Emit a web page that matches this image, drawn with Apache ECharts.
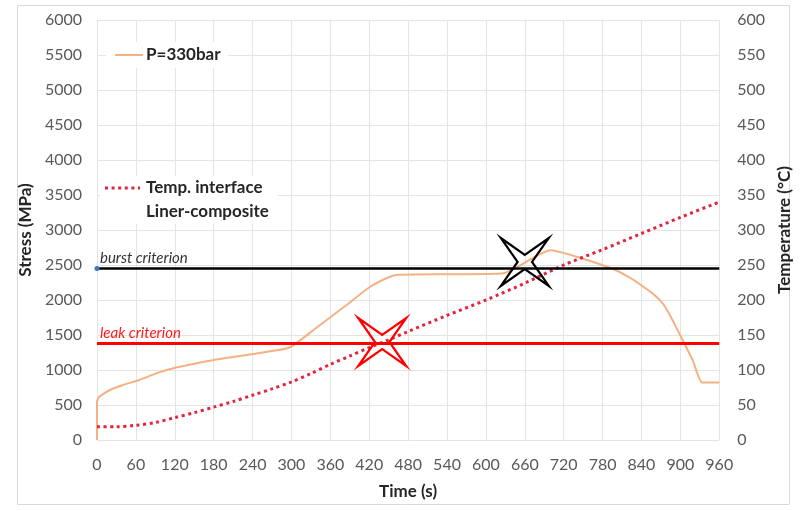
<!DOCTYPE html>
<html>
<head>
<meta charset="utf-8">
<script src="https://cdn.jsdelivr.net/npm/echarts@6/dist/echarts.min.js"></script>
<style>
  html, body { margin: 0; padding: 0; background: #ffffff; }
  #chart { width: 801px; height: 511px; }
</style>
</head>
<body>
<div id="chart"></div>
<script>
// Stress in the liner (MPa) over time (s)
const stressTime  = [0, 0,   4,   20,  40,  65,  91,  119,  150,  180,  210,  241,  270,  298,  340,  381,  421,  451,  465,  540,  625,  700,  746,  797,  820,  843,  860,  876,  893,  906,  919,  934, 960];
const stressValue = [0, 547, 620, 714, 786, 857, 952, 1029, 1090, 1143, 1185, 1229, 1270, 1325, 1614, 1900, 2186, 2329, 2360, 2368, 2378, 2710, 2600, 2440, 2330, 2190, 2070, 1910, 1620, 1380, 1140, 820, 820];

// Temperature at the liner-composite interface (°C) over time (s)
const tempTime  = [0,  30, 60, 90, 120, 150, 180, 210, 240, 270, 300, 330, 360, 390, 420, 450, 480, 540, 600, 660, 720, 780, 840, 900, 960];
const tempValue = [19, 19, 21, 25, 32,  39,  47,  55,  64,  73,  83,  95,  108, 120, 132, 143, 155, 178, 200, 224, 250, 272, 295, 318, 340];

// Failure criteria (MPa)
const burstCriterion = 2450;
const leakCriterion = 1380;

// Star markers: [time, stress]
const leakStar  = [440, 1400];
const burstStar = [660, 2543];

// Legend entries
const stressLegend = 'P=330bar';
const tempLegend = ['Temp. interface', 'Liner-composite'];

// Axis ranges / ticks
const timeTicks   = { min: 0, max: 960, interval: 60 };
const stressTicks = { min: 0, max: 6000, interval: 500 };
const tempTicks   = { min: 0, max: 600, interval: 50 };

const zip = (xs, ys) => xs.map((x, i) => [x, ys[i]]);

const FONT = 'Lato, "Liberation Sans", sans-serif';
const STRESS_COLOR = '#f4b183';
const TEMP_COLOR = '#e2243c';
const starPath = 'path://M0 0L50 35L100 0L65 50L100 100L50 65L0 100L35 50Z';

const chart = echarts.init(document.getElementById('chart'), null, { renderer: 'canvas' });

const axisLabel = { color: '#595959', fontFamily: FONT, fontSize: 16, formatter: v => String(v) };
const axisName = { color: '#262626', fontFamily: FONT, fontSize: 17, fontWeight: 'bold' };
const gridLine = { show: true, lineStyle: { color: '#e4e4e4', width: 1 } };
const legendFont = 'bold 17px ' + FONT;

chart.setOption({
  animation: false,
  backgroundColor: '#ffffff',
  grid: { left: 97, right: 74, top: 20, bottom: 71, containLabel: false },
  xAxis: {
    type: 'value',
    min: timeTicks.min, max: timeTicks.max, interval: timeTicks.interval,
    name: 'Time (s)', nameLocation: 'middle', nameGap: 43,
    nameTextStyle: axisName,
    axisLine: { show: false }, axisTick: { show: false },
    axisLabel: Object.assign({ margin: 17 }, axisLabel),
    splitLine: gridLine
  },
  yAxis: [
    {
      type: 'value', position: 'left',
      min: stressTicks.min, max: stressTicks.max, interval: stressTicks.interval,
      name: 'Stress (MPa)', nameLocation: 'middle', nameGap: 56, nameRotate: 90,
      nameTextStyle: axisName,
      axisLine: { show: false }, axisTick: { show: false },
      axisLabel: Object.assign({ margin: 15 }, axisLabel),
      splitLine: gridLine
    },
    {
      type: 'value', position: 'right',
      min: tempTicks.min, max: tempTicks.max, interval: tempTicks.interval,
      name: 'Temperature (°C)', nameLocation: 'middle', nameGap: 56, nameRotate: 90,
      nameTextStyle: axisName,
      axisLine: { show: false }, axisTick: { show: false },
      axisLabel: Object.assign({ margin: 18 }, axisLabel),
      splitLine: { show: false }
    }
  ],
  graphic: [
    {
      type: 'rect', silent: true, z: -1,
      shape: { x: 17.5, y: 5.5, width: 772, height: 499 },
      style: { fill: 'none', stroke: '#d9d9d9', lineWidth: 1 }
    },
    // legend: stress
    {
      type: 'group', silent: true, z: 20,
      children: [
        { type: 'rect', shape: { x: 106, y: 42, width: 122, height: 26 }, style: { fill: '#ffffff' }, z: 20 },
        { type: 'line', shape: { x1: 115, y1: 55, x2: 143, y2: 55 }, style: { stroke: STRESS_COLOR, lineWidth: 2 }, z: 21 },
        { type: 'text', x: 146, y: 55, style: { text: stressLegend, fill: '#262626', font: legendFont, verticalAlign: 'middle' }, z: 21 }
      ]
    },
    // legend: temperature
    {
      type: 'group', silent: true, z: 20,
      children: [
        { type: 'rect', shape: { x: 100, y: 176, width: 178, height: 48 }, style: { fill: '#ffffff' }, z: 20 },
        { type: 'line', shape: { x1: 105, y1: 188, x2: 140, y2: 188 }, style: { stroke: TEMP_COLOR, lineWidth: 3, lineDash: [3, 3.6] }, z: 21 },
        { type: 'text', x: 146, y: 188, style: { text: tempLegend[0], fill: '#262626', font: legendFont, verticalAlign: 'middle' }, z: 21 },
        { type: 'text', x: 146, y: 212, style: { text: tempLegend[1], fill: '#262626', font: legendFont, verticalAlign: 'middle' }, z: 21 }
      ]
    }
  ],
  series: [
    {
      name: 'Burst criterion', type: 'line', yAxisIndex: 0,
      data: [], silent: true,
      markLine: {
        silent: true, symbol: 'none',
        lineStyle: { color: '#000000', width: 2.5, type: 'solid' },
        label: {
          show: true, position: 'insideStartTop', distance: [3, 3],
          formatter: 'burst criterion', color: '#333333',
          fontFamily: FONT, fontSize: 15, fontStyle: 'italic'
        },
        data: [{ yAxis: burstCriterion }]
      }
    },
    {
      name: 'Leak criterion', type: 'line', yAxisIndex: 0,
      data: [], silent: true,
      markLine: {
        silent: true, symbol: 'none',
        lineStyle: { color: '#ff0000', width: 3, type: 'solid' },
        label: {
          show: true, position: 'insideStartTop', distance: [3, 3],
          formatter: 'leak criterion', color: '#ff1a1a',
          fontFamily: FONT, fontSize: 15, fontStyle: 'italic'
        },
        data: [{ yAxis: leakCriterion }]
      }
    },
    {
      name: stressLegend, type: 'line', yAxisIndex: 0,
      data: zip(stressTime, stressValue),
      showSymbol: false, symbol: 'none', smooth: 0.2,
      lineStyle: { color: STRESS_COLOR, width: 2 },
      itemStyle: { color: STRESS_COLOR },
      z: 3
    },
    {
      name: tempLegend.join(' '), type: 'line', yAxisIndex: 1,
      data: zip(tempTime, tempValue),
      showSymbol: false, symbol: 'none', smooth: 0.3,
      lineStyle: { color: TEMP_COLOR, width: 3, type: [3, 3.6], cap: 'butt' },
      itemStyle: { color: TEMP_COLOR },
      z: 4
    },
    {
      name: 'Burst origin', type: 'scatter', yAxisIndex: 0,
      data: [[0, burstCriterion]], symbolSize: 5,
      itemStyle: { color: '#4472c4', opacity: 1 }, silent: true, z: 6
    },
    {
      name: 'Leak star', type: 'scatter', yAxisIndex: 0,
      data: [leakStar], symbol: starPath, symbolSize: 48,
      itemStyle: { color: 'rgba(255,255,255,0)', borderColor: '#ff0000', borderWidth: 2.2, opacity: 1 },
      silent: true, z: 7
    },
    {
      name: 'Burst star', type: 'scatter', yAxisIndex: 0,
      data: [burstStar], symbol: starPath, symbolSize: 48,
      itemStyle: { color: 'rgba(255,255,255,0)', borderColor: '#000000', borderWidth: 2.2, opacity: 1 },
      silent: true, z: 7
    }
  ]
});
</script>
</body>
</html>
